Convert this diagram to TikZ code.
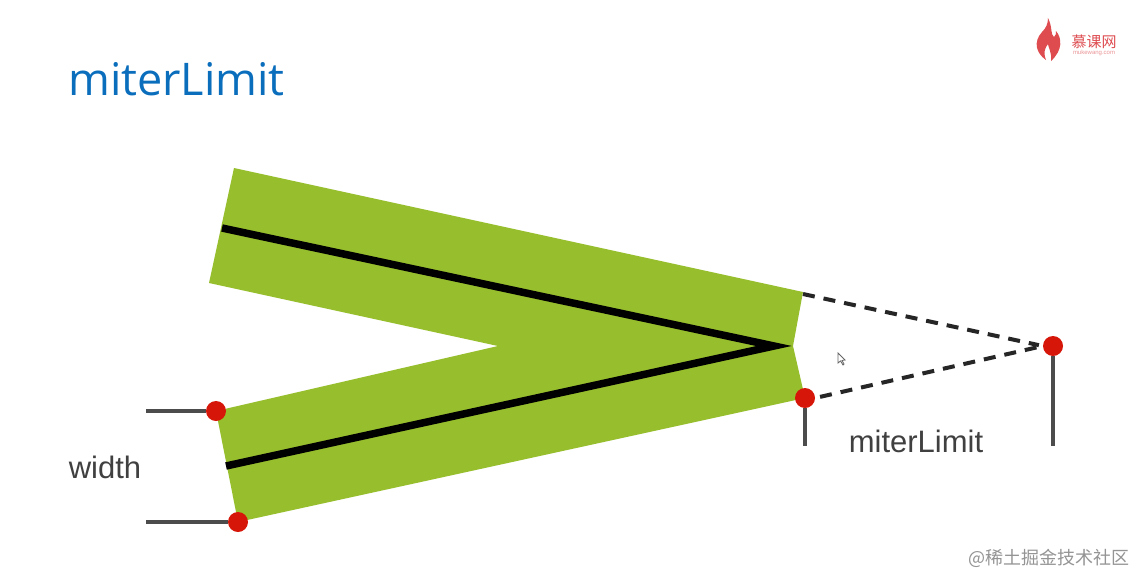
\documentclass[tikz,border=0pt]{standalone}
\usepackage{fontspec}
\setmainfont{Liberation Sans}
\newfontfamily\titlefont{Open Sans}
\newfontfamily\cjkfont{Noto Sans CJK SC}
\definecolor{leaf}{RGB}{151,190,45}
\definecolor{dotred}{RGB}{214,22,8}
\definecolor{titleblue}{RGB}{10,110,189}
\definecolor{flame}{RGB}{222,76,80}
\tikzset{
  reddot/.style={circle,fill=dotred,inner sep=0pt,minimum size=20pt},
  leader/.style={line width=3.6pt,color=black!70},
  dashline/.style={line width=4pt,color=black!85,dash pattern=on 12pt off 9pt},
  label/.style={inner sep=0pt,color=black!75,font=\fontsize{31}{31}\selectfont}
}
\begin{document}
\begin{tikzpicture}[x=1pt,y=-1pt]
\useasboundingbox (0,0) rectangle (1136,576);
\fill [white] (0,0) rectangle (1136,576);
% title and logo
\node (title) [inner sep=0pt,anchor=base west,color=titleblue,font=\titlefont\fontsize{45}{45}\selectfont] at (68,95) {miterLimit};
\fill [flame] (1048,18) .. controls (1053,28) and (1050,34) .. (1054,37) .. controls (1056,36) and (1056,33) .. (1056,31) .. controls (1062,38) and (1063,50) .. (1051,61) .. controls (1052,52) and (1048,47) .. (1048,44) .. controls (1045,48) and (1043,52) .. (1046,60) .. controls (1036,53) and (1033,42) .. (1042,32) .. controls (1046,28) and (1048,24) .. (1048,18) -- cycle;
\node (logo) [inner sep=0pt,color=flame,font=\cjkfont\fontsize{15}{15}\selectfont] at (1094,42) {慕课网};
\node (logosub) [inner sep=0pt,color=flame!60,font=\fontsize{6}{6}\selectfont] at (1094,53) {mukewang.com};
% green band and black centre line
\fill [leaf] (234,168) -- (803,292) -- (793,346) -- (805,398) -- (238,522) -- (216,411) -- (498,346) -- (209,283) -- cycle;
\draw [black,line width=7.5pt,miter limit=20] (222,228) -- (774,346) -- (226,466);
% dots
\node (widthtop) [reddot] at (216,411) {};
\node (widthbot) [reddot] at (238,522) {};
\node (miterbot) [reddot] at (805,398) {};
\node (mitertip) [reddot] at (1053,346) {};
\coordinate (mitertop) at (803,294);
\coordinate (widthtopend) at (146,411);
\coordinate (widthbotend) at (146,522);
\coordinate (miterbotend) at (805,446);
\coordinate (mitertipend) at (1053,446);
\draw [leader] (widthtop) -- (widthtopend);
\draw [leader] (widthbot) -- (widthbotend);
\draw [leader] (miterbot) -- (miterbotend);
\draw [leader] (mitertip) -- (mitertipend);
\draw [dashline,shorten >=4pt] (mitertop) -- (mitertip.west);
\draw [dashline,shorten <=5pt,shorten >=4pt] (miterbot.east) -- (mitertip.west);
% labels
\node (widthlabel) [label] at (105,467) {width};
\node (miterlabel) [label] at (916,441) {miterLimit};
% mouse pointer
\draw [black!60,fill=white,line width=0.8pt] (838,353) -- (838,363) -- (840.5,361) -- (843,365) -- (844,364) -- (842,360.5) -- (845,360) -- cycle;
% watermark
\node (mark) [inner sep=0pt,anchor=east,color=black!42,font=\cjkfont\fontsize{18}{18}\selectfont] at (1130,558) {@稀土掘金技术社区};
\end{tikzpicture}
\end{document}
